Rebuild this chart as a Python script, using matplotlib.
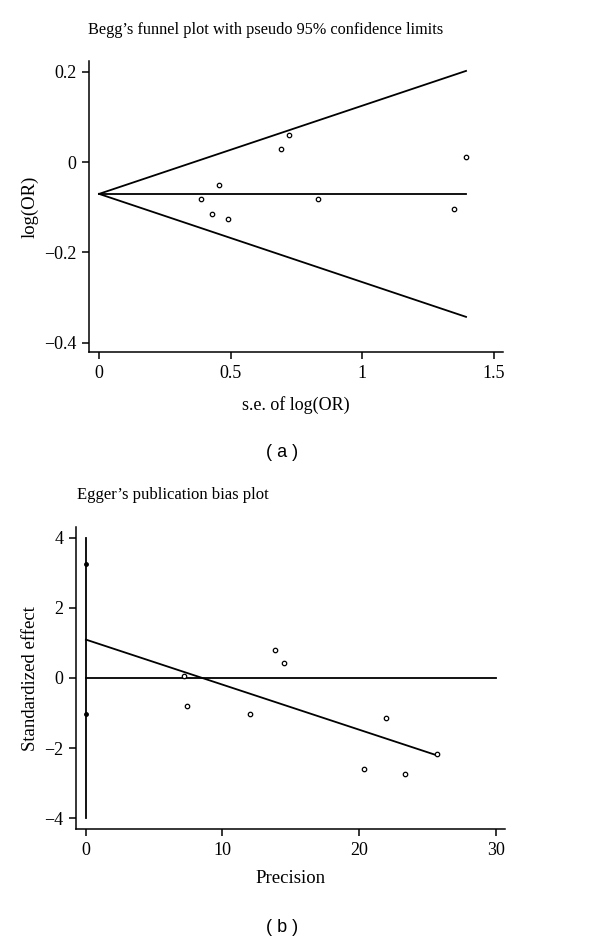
import matplotlib
matplotlib.use("Agg")
import matplotlib.pyplot as plt

# Begg's funnel plot (panel a)
begg_se = [0.388, 0.429, 0.455, 0.490, 0.691, 0.720, 0.830, 1.348, 1.394]
begg_logor = [-0.082, -0.116, -0.051, -0.127, 0.030, 0.059, -0.082, -0.104, 0.011]
begg_pooled = -0.0705
begg_limit_upper = 0.202
begg_limit_lower = -0.343
begg_xticks = [0, 0.5, 1, 1.5]
begg_xticklabels = ["0", "0.5", "1", "1.5"]
begg_yticks = [0.2, 0, -0.2, -0.4]
begg_yticklabels = ["0.2", "0", "\u22120.2", "\u22120.4"]

# Egger's publication bias plot (panel b)
egger_precision = [7.16, 7.43, 12.05, 13.88, 14.47, 20.36, 21.98, 23.34, 25.71]
egger_effect = [0.057, -0.79, -1.02, 0.81, 0.43, -2.61, -1.13, -2.74, -2.16]
egger_ci = [3.24, -1.04]
egger_fit_start = 1.095
egger_fit_end = -2.21
egger_xticks = [0, 10, 20, 30]
egger_yticks = [4, 2, 0, -2, -4]
egger_yticklabels = ["4", "2", "0", "\u22122", "\u22124"]

SERIF = ["Liberation Serif", "DejaVu Serif"]
plt.rcParams["font.family"] = SERIF
plt.rcParams["axes.linewidth"] = 1.1
plt.rcParams["xtick.major.width"] = 1.1
plt.rcParams["ytick.major.width"] = 1.1
plt.rcParams["xtick.major.size"] = 5
plt.rcParams["ytick.major.size"] = 5

fig = plt.figure(figsize=(6, 9.44), dpi=100)

LW = 1.3
MARKER = dict(marker="o", linestyle="none", markersize=3.2,
              markerfacecolor="white", markeredgecolor="black", markeredgewidth=0.9)


def style_axes(ax):
    for side in ("top", "right"):
        ax.spines[side].set_visible(False)
    ax.tick_params(labelsize=13, pad=4)


# ---- panel a ----
ax1 = fig.add_axes([0.148, 0.6268, 0.691, 0.3086])
max_se = max(begg_se)
ax1.plot([0, max_se], [begg_pooled, begg_limit_upper], color="black", lw=LW)
ax1.plot([0, max_se], [begg_pooled, begg_limit_lower], color="black", lw=LW)
ax1.plot([0, max_se], [begg_pooled, begg_pooled], color="black", lw=LW)
ax1.plot(begg_se, begg_logor, **MARKER)
ax1.set_xlim(-0.039, 1.536)
ax1.set_ylim(-0.4215, 0.224)
ax1.set_xticks(begg_xticks, begg_xticklabels)
ax1.set_yticks(begg_yticks, begg_yticklabels)
style_axes(ax1)
ax1.set_xlabel("s.e. of log(OR)", fontsize=13, labelpad=10)
ax1.set_ylabel("log(OR)", fontsize=13.5, labelpad=4)
fig.text(0.443, 1 - 30 / 944, "Begg\u2019s funnel plot with pseudo 95% confidence limits",
         ha="center", va="center", fontsize=11.7)
fig.text(0.47, 1 - 452 / 944, "( a )", ha="center", va="center", fontsize=13,
         family=["Liberation Sans", "DejaVu Sans"])

# ---- panel b ----
ax2 = fig.add_axes([0.127, 0.1215, 0.715, 0.3199])
ax2.plot([0, 0], [egger_yticks[0], egger_yticks[-1]], color="black", lw=LW)
ax2.plot([0, 0], egger_ci, marker="o", linestyle="none", markersize=2.5, color="black")
ax2.plot([0, egger_xticks[-1]], [0, 0], color="black", lw=LW)
ax2.plot([0, max(egger_precision)], [egger_fit_start, egger_fit_end], color="black", lw=LW)
ax2.plot(egger_precision, egger_effect, **MARKER)
ax2.set_xlim(-0.71, 30.7)
ax2.set_ylim(-4.32, 4.3)
ax2.set_xticks(egger_xticks)
ax2.set_yticks(egger_yticks, egger_yticklabels)
style_axes(ax2)
ax2.set_xlabel("Precision", fontsize=13.5, labelpad=8)
ax2.set_ylabel("Standardized effect", fontsize=13.5, labelpad=4)
fig.text(0.128, 1 - 495 / 944, "Egger\u2019s publication bias plot",
         ha="left", va="center", fontsize=12)
fig.text(0.47, 1 - 928 / 944, "( b )", ha="center", va="center", fontsize=13,
         family=["Liberation Sans", "DejaVu Sans"])

fig.savefig("out.png", dpi=100)
